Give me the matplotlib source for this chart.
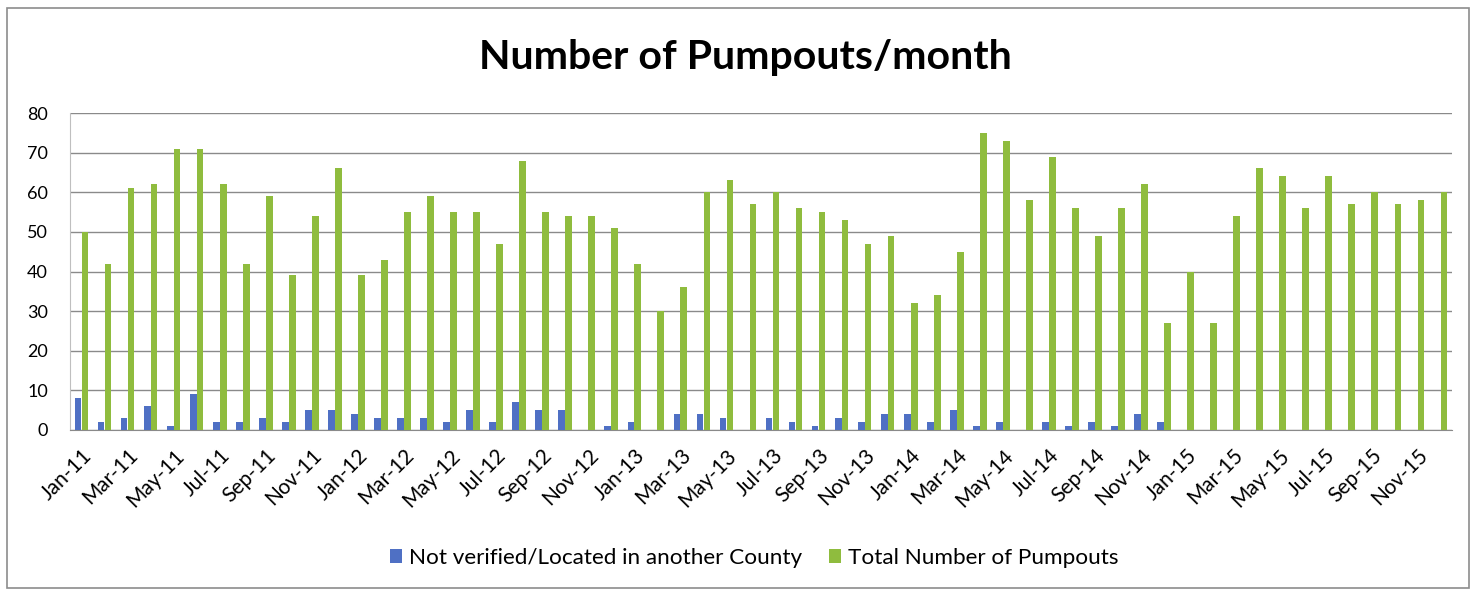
import numpy as np
import matplotlib.pyplot as plt
from matplotlib.patches import Rectangle

plt.rcParams['font.family'] = ['Lato', 'DejaVu Sans']

# month labels Jan-11 .. Dec-15
years = ['11', '12', '13', '14', '15']
month_names = ['Jan', 'Feb', 'Mar', 'Apr', 'May', 'Jun',
               'Jul', 'Aug', 'Sep', 'Oct', 'Nov', 'Dec']
months = [m + '-' + y for y in years for m in month_names]

not_verified = [8, 2, 3, 6, 1, 9, 2, 2, 3, 2, 5, 5,
                4, 3, 3, 3, 2, 5, 2, 7, 5, 5, 0, 1,
                2, 0, 4, 4, 3, 0, 3, 2, 1, 3, 2, 4,
                4, 2, 5, 1, 2, 0, 2, 1, 2, 1, 4, 2,
                0, 0, 0, 0, 0, 0, 0, 0, 0, 0, 0, 0]

total_pumpouts = [50, 42, 61, 62, 71, 71, 62, 42, 59, 39, 54, 66,
                  39, 43, 55, 59, 55, 55, 47, 68, 55, 54, 54, 51,
                  42, 30, 36, 60, 63, 57, 60, 56, 55, 53, 47, 49,
                  32, 34, 45, 75, 73, 58, 69, 56, 49, 56, 62, 27,
                  40, 27, 54, 66, 64, 56, 64, 57, 60, 57, 58, 60]

BLUE = '#4f70c4'
GREEN = '#8fbc3e'

fig = plt.figure(figsize=(14.77, 5.91), dpi=100)
ax = fig.add_axes([70 / 1477, 1 - 430 / 591, (1452 - 70) / 1477, (430 - 113) / 591])

x = np.arange(len(months))
w = 0.29
ax.bar(x - 0.15, not_verified, width=w, color=BLUE, label='Not verified/Located in another County', zorder=3)
ax.bar(x + 0.15, total_pumpouts, width=w, color=GREEN, label='Total Number of Pumpouts', zorder=3)

ax.set_xlim(-0.5, len(months) - 0.5)
ax.set_ylim(0, 80)
ax.set_yticks(range(0, 81, 10))
ax.yaxis.grid(True, color='#8a8a8a', linewidth=1, zorder=0)
ax.tick_params(axis='y', length=0, pad=16, labelsize=13)

ax.set_xticks(x[::2])
ax.set_xticklabels(months[::2], rotation=45, ha='right', rotation_mode='anchor', fontsize=15)
ax.tick_params(axis='x', length=0, pad=11)

for s in ['top', 'right']:
    ax.spines[s].set_visible(False)
ax.spines['left'].set_color('#bfbfbf')
ax.spines['bottom'].set_color('#8a8a8a')

fig.text(745 / 1477, 1 - 58 / 591, 'Number of Pumpouts/month', ha='center', va='center',
         fontsize=29.5, fontweight='bold')

fig.legend(loc='center', bbox_to_anchor=(754 / 1477, 1 - 558 / 591), ncol=2, frameon=False,
           fontsize=16.2, handlelength=0.55, handleheight=0.55, handletextpad=0.3,
           columnspacing=1.2)

fig.patches.append(Rectangle((7 / 1477, 3 / 591), 1462 / 1477, 580 / 591,
                             transform=fig.transFigure, fill=False,
                             edgecolor='#8c8c8c', linewidth=1.2))

fig.savefig('out.png', dpi=100)
